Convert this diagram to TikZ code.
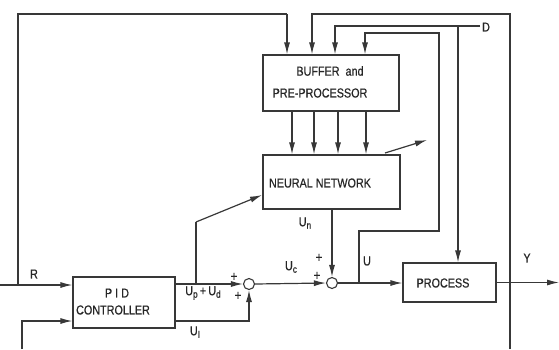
\documentclass[tikz,border=0pt]{standalone}
\usepackage{fontspec}
\setmainfont{Liberation Sans}
\newfontfamily\plotfont[FakeStretch=0.83,FakeBold=0.5]{Liberation Sans}
\newcommand\sbs[1]{\raisebox{-2.5pt}{\fontsize{10}{10}\selectfont #1}}
\usetikzlibrary{arrows.meta}
\begin{document}
\begin{tikzpicture}[x=1pt,y=-1pt,
  ln/.style={draw=black!78, line width=1.2pt},
  arr/.style={ln, -{Latex[length=12pt,width=6pt]}},
  blk/.style={draw=black!78, line width=1.2pt, inner sep=0pt},
  sumj/.style={circle, draw=black!78, line width=1.1pt, minimum size=11pt, inner sep=0pt},
  btxt/.style={font=\plotfont\fontsize{13}{14}\selectfont, inner sep=0pt, text=black!85},
  lbl/.style={font=\plotfont\fontsize{13}{14}\selectfont, inner sep=0pt, text=black!85},
  pls/.style={font=\plotfont\fontsize{14}{14}\selectfont, inner sep=0pt, text=black!85}]
\useasboundingbox (0,0) rectangle (559,349);
\fill[white] (0,0) rectangle (559,349);
% blocks
\node[blk, minimum width=136pt, minimum height=56pt] (buf) at (331,83) {};
\node[blk, minimum width=137pt, minimum height=54pt] (nn) at (331.5,182) {};
\node[blk, minimum width=102pt, minimum height=51pt] (pid) at (124,302.5) {};
\node[blk, minimum width=93pt, minimum height=39pt] (proc) at (449.5,282.5) {};
\node[sumj] (s1) at (249,284) {};
\node[sumj] (s2) at (332,283) {};
% block texts
\node[btxt] (tb1) at (330,71) {BUFFER\ \ and};
\node[btxt] (tb2) at (320,93) {PRE-PROCESSOR};
\node[btxt] (tn) at (320,183) {NEURAL NETWORK};
\node[btxt] (tp1) at (117,293) {P\ I\ D};
\node[btxt] (tp2) at (113,310) {CONTROLLER};
\node[btxt] (tpr) at (443,283) {PROCESS};
% labels
\node[lbl] (lR) at (34,274) {R};
\node[lbl] (lD) at (486,27) {D};
\node[lbl] (lY) at (527,258) {Y};
\node[lbl] (lU) at (367,261) {U};
\node[lbl] (lUpd) at (203,293) {U\sbs{p}\,+\,U\sbs{d}};
\node[lbl] (lUI) at (195,332) {U\sbs{I}};
\node[lbl] (lUn) at (305,223) {U\sbs{n}};
\node[lbl] (lUc) at (291,267) {U\sbs{c}};
\node[pls] (p1) at (234,277) {+};
\node[pls] (p2) at (238,296) {+};
\node[pls] (p3) at (319,258) {+};
\node[pls] (p4) at (317,276) {+};
% coordinates
\coordinate (tl) at (18,14);
\coordinate (t1) at (287,14);
\coordinate (t2) at (312,14);
\coordinate (tr) at (510,14);
\coordinate (brc) at (510,349);
\coordinate (d3) at (335,26);
\coordinate (dend) at (480,26);
\coordinate (dj) at (458,26);
\coordinate (u4) at (365,33);
\coordinate (u4r) at (439,33);
\coordinate (u4d) at (439,231);
\coordinate (u4l) at (359,231);
\coordinate (uj) at (359,283);
\coordinate (rin) at (0,285);
\coordinate (rj) at (18,285);
\coordinate (bl) at (22,349);
\coordinate (bc) at (22,321);
\coordinate (b1) at (196,284);
\coordinate (b2) at (196,222);
\coordinate (nnin) at (262,195);
\coordinate (lr1) at (385,153);
\coordinate (lr2) at (427,140);
\coordinate (yend) at (559,282.5);
\coordinate (o1) at (292,111);
\coordinate (o2) at (314,111);
\coordinate (o3) at (338,111);
\coordinate (o4) at (366,111);
% connectors
\draw[ln] (rj) -- (tl) -- (t1);
\draw[arr] (t1) -- (t1 |- buf.north);
\draw[arr] (brc) -- (tr) -- (t2) -- (t2 |- buf.north);
\draw[arr] (dend) -- (d3) -- (d3 |- buf.north);
\draw[arr] (dj) -- (dj |- proc.north);
\draw[arr] (uj) -- (u4l) -- (u4d) -- (u4r) -- (u4) -- (u4 |- buf.north);
\foreach \o in {o1,o2,o3,o4} \draw[arr] (\o) -- (\o |- nn.north);
\draw[arr] (rin) -- (rin -| pid.west);
\draw[arr] (bl) -- (bc) -- (bc -| pid.west);
\draw[arr] (s1 -| pid.east) -- (s1.west);
\draw[ln] (b1) -- (b2);
\draw[arr] (b2) -- (nnin);
\draw[arr] (bc -| pid.east) -- (bc -| s1) -- (s1.south);
\draw[arr] (s1.east) -- (s2.west);
\draw[arr] (nn.south -| s2) -- (s2.north);
\draw[arr] (s2.east) -- (s2 -| proc.west);
\draw[arr] (proc.east) -- (yend);
\draw[arr] (lr1) -- (lr2);
\end{tikzpicture}
\end{document}
